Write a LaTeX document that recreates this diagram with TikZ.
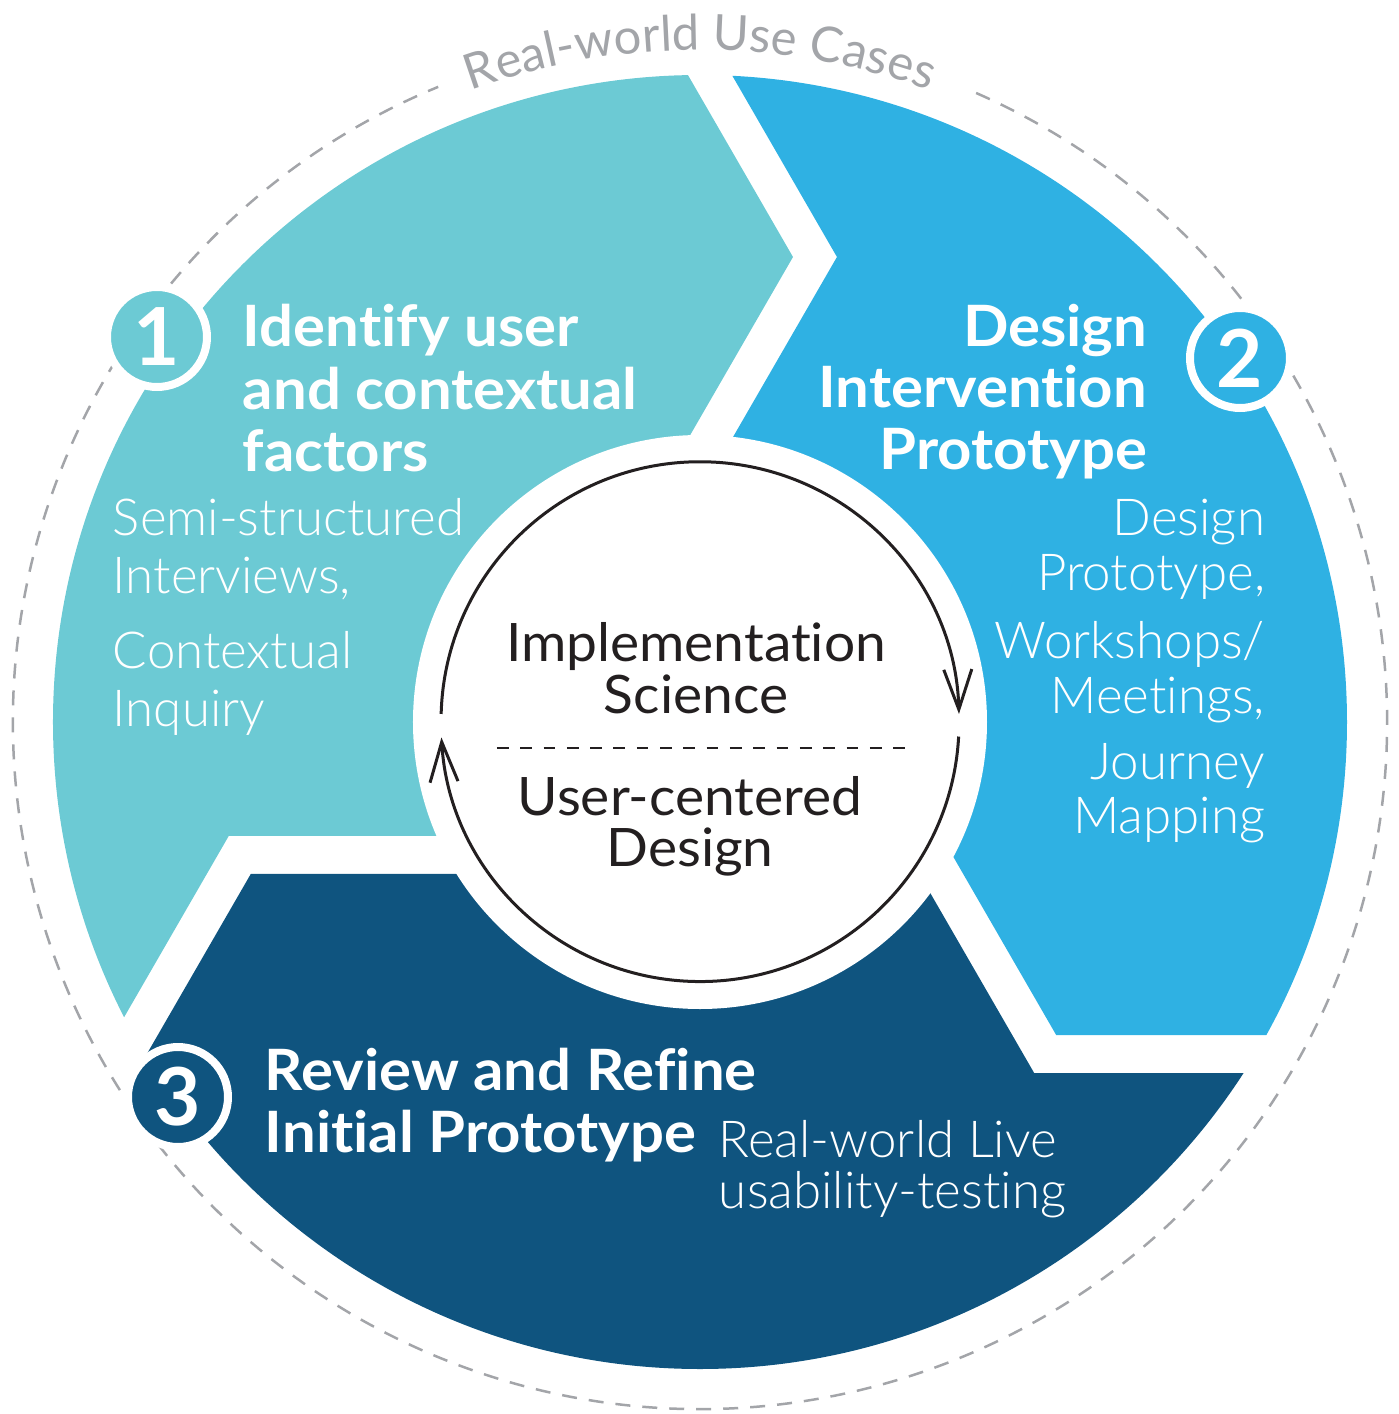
\documentclass[tikz,border=0pt]{standalone}
\usepackage{fontspec}
\usetikzlibrary{arrows.meta,decorations.text}
\setmainfont{Lato}[Ligatures=CommonOff]
\newfontfamily\headfont{Lato}[Ligatures=CommonOff, FakeStretch=1.05]
\newfontfamily\corefont{Lato}[Ligatures=CommonOff, FakeStretch=1.04]
\IfFontExistsTF{Lato Light}
  {\newfontfamily\lightfont{Lato Light}[Ligatures=CommonOff]}
  {\newfontfamily\lightfont{Lato}[Ligatures=CommonOff]}
\definecolor{phaseone}{RGB}{108,202,212}
\definecolor{phasetwo}{RGB}{47,177,227}
\definecolor{phasethree}{RGB}{15,84,127}
\definecolor{ink}{RGB}{35,31,32}
\definecolor{usecase}{RGB}{163,165,169}

\begin{document}
\begin{tikzpicture}[x=1pt,y=1pt,
  txt/.style={inner sep=0pt, outer sep=0pt},
  headtxt/.style={txt, text=white, font=\headfont\bfseries\fontsize{57}{57}\selectfont},
  itemtxt/.style={txt, text=white, font=\lightfont\fontsize{51}{51}\selectfont},
  coretxt/.style={txt, text=ink, font=\corefont\fontsize{53}{53}\selectfont},
  badge/.style={circle, draw=white, line width=8pt, minimum size=100pt,
    inner sep=0pt, text=white, font=\bfseries\fontsize{80}{80}\selectfont},
  cycle arrow/.style={ink, line width=3pt,
    -{Straight Barb[length=40pt, width=28pt]}},
]
\useasboundingbox (-700,-692) rectangle (698,722);

% outer dashed ring with its curved caption
\draw[usecase, line width=2.5pt, dash pattern=on 15pt off 12pt]
  (66.3:687) arc[start angle=66.3, end angle=-247.6, radius=687];
\path[decorate, decoration={text along path, text align=center,
  text={|\fontsize{49}{49}\selectfont\color{usecase}|Real-world Use Cases}}]
  (140:672) arc[start angle=140, end angle=40, radius=672];

% three chevron-shaped phases of the ring
\begin{scope}
  \clip (0,0) circle (647);
  \foreach \col/\rot in {phaseone/0, phasetwo/-120, phasethree/120}{
    \fill[\col, rotate=\rot]
      (0,0) -- (-171.2,-113.9) -- (-471.2,-113.9) -- (-621.2,-373.7)
      -- (-950,-560) -- (-950,950) -- (-57,950) -- (-57,724.8)
      -- (93,465) -- (-57,205.2) -- cycle;
  }
\end{scope}
\fill[white] (0,0) circle (287);

% central cycle
\node[circle, minimum size=518pt, inner sep=0pt, outer sep=0pt] (core) at (0,-1) {};
\draw[cycle arrow] (core.178.5) arc[start angle=178.5, end angle=1.5, radius=259];
\draw[cycle arrow] (core.-3.1) arc[start angle=-3.1, end angle=-176.7, radius=259];
\coordinate (splitL) at (-203,-26);
\coordinate (splitR) at (206.5,-26);
\draw[ink, line width=2.2pt, dash pattern=on 11.7pt off 11.6pt] (splitL) -- (splitR);
\node[coretxt, anchor=base] (impl) at (-4,61) {Implementation};
\node[coretxt, anchor=base] (sci) at (-4,9) {Science};
\node[coretxt, anchor=base] (ucd) at (-10,-93) {User-centered};
\node[coretxt, anchor=base] (des) at (-10,-144) {Design};

% phase 1
\node[headtxt, anchor=base west] (h1a) at (-457,375) {Identify user};
\node[headtxt, anchor=base west] (h1b) at (-457,312) {and contextual};
\node[headtxt, anchor=base west] (h1c) at (-457,250) {factors};
\node[itemtxt, anchor=base west] (i1a) at (-587,186) {Semi-structured};
\node[itemtxt, anchor=base west] (i1b) at (-587,129) {Interviews,};
\node[itemtxt, anchor=base west] (i1c) at (-587,54) {Contextual};
\node[itemtxt, anchor=base west] (i1d) at (-587,-4) {Inquiry};

% phase 2
\node[headtxt, anchor=base east] (h2a) at (447,375) {Design};
\node[headtxt, anchor=base east] (h2b) at (447,314) {Intervention};
\node[headtxt, anchor=base east] (h2c) at (447,252) {Prototype};
\node[itemtxt, anchor=base east] (i2a) at (565,186) {Design};
\node[itemtxt, anchor=base east] (i2b) at (565,132) {Prototype,};
\node[itemtxt, anchor=base east] (i2c) at (565,64) {Workshops/};
\node[itemtxt, anchor=base east] (i2d) at (565,9) {Meetings,};
\node[itemtxt, anchor=base east] (i2e) at (565,-57) {Journey};
\node[itemtxt, anchor=base east] (i2f) at (565,-111) {Mapping};

% phase 3
\node[headtxt, anchor=base west] (h3a) at (-435,-368) {Review and Refine};
\node[headtxt, anchor=base west] (h3b) at (-435,-430) {Initial Prototype};
\node[itemtxt, anchor=base west] (i3a) at (19,-435) {Real-world Live};
\node[itemtxt, anchor=base west] (i3b) at (19,-486) {usability-testing};

% numbered badges
\node[badge, fill=phaseone] (b1) at (-543,385) {1};
\node[badge, fill=phasetwo] (b2) at (540,364) {2};
\node[badge, fill=phasethree] (b3) at (-522,-375) {3};
\end{tikzpicture}
\end{document}
